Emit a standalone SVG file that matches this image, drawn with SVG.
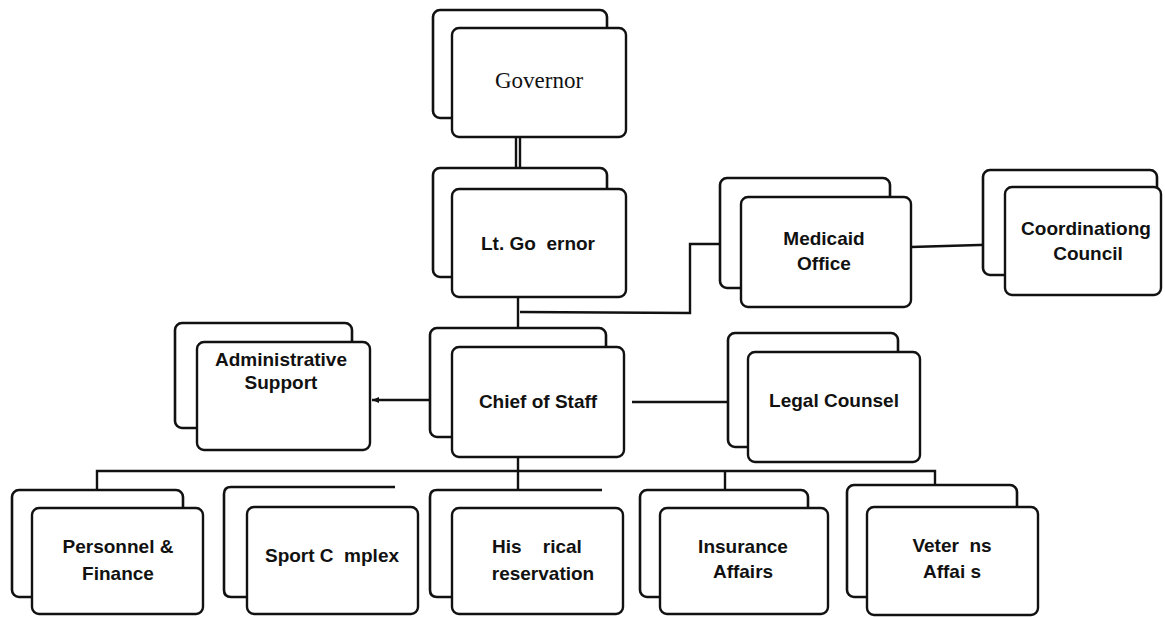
<svg xmlns="http://www.w3.org/2000/svg" width="1165" height="617" viewBox="0 0 1165 617">
<defs>
<style>
.bk{fill:#fff;stroke:#111;stroke-width:2.6}
.fr{fill:#fff;stroke:#111;stroke-width:2.4}
.ln{fill:none;stroke:#111;stroke-width:2.4}
.t{font-family:"Liberation Sans",Arial,sans-serif;font-size:19px;font-weight:bold;fill:#111;text-anchor:middle;white-space:pre}
.s{font-family:"Liberation Serif","Times New Roman",serif;font-size:23px;fill:#111;text-anchor:middle}
</style>
<marker id="ah" markerWidth="8" markerHeight="8" refX="7" refY="4" orient="auto" markerUnits="userSpaceOnUse">
<path d="M0,1 L7,4 L0,7 Z" fill="#111"/>
</marker>
</defs>
<rect width="1165" height="617" fill="#fff"/>
<g id="connectors">
<line class="ln" x1="516" y1="137" x2="516" y2="168"/>
<line class="ln" x1="520" y1="137" x2="520" y2="168"/>
<line class="ln" x1="518" y1="297" x2="518" y2="328"/>
<polyline class="ln" points="520,312 690,313 690,244 741,244"/>
<line class="ln" x1="911" y1="247" x2="1013" y2="244"/>
<line class="ln" x1="452" y1="400" x2="372" y2="400" marker-end="url(#ah)"/>
<line class="ln" x1="632" y1="402" x2="748" y2="402"/>
<line class="ln" x1="518" y1="457" x2="518" y2="490"/>
<polyline class="ln" points="97,490 97,471 935,471 935,485"/>
<line class="ln" x1="725" y1="471" x2="725" y2="490"/>
</g>
<g id="governor">
<rect class="bk" x="433" y="10" width="174" height="108" rx="7"/>
<rect class="fr" x="452" y="28" width="174" height="109" rx="7"/>
<text class="s" x="539" y="88">Governor</text>
</g>
<g id="lt-governor">
<rect class="bk" x="433" y="168" width="174" height="109" rx="7"/>
<rect class="fr" x="452" y="189" width="174" height="108" rx="7"/>
<text class="t" x="538" y="250" xml:space="preserve">Lt. Go  ernor</text>
</g>
<g id="medicaid-office">
<rect class="bk" x="720" y="178" width="170" height="110" rx="7"/>
<rect class="fr" x="741" y="197" width="170" height="110" rx="7"/>
<text class="t" x="824" y="245">Medicaid</text>
<text class="t" x="824" y="270">Office</text>
</g>
<g id="coordinating-council">
<rect class="bk" x="983" y="170" width="174" height="105" rx="7"/>
<rect class="fr" x="1005" y="187" width="156" height="108" rx="7"/>
<text class="t" x="1086" y="235">Coordinationg</text>
<text class="t" x="1088" y="260">Council</text>
</g>
<g id="administrative-support">
<rect class="bk" x="175" y="323" width="177" height="105" rx="7"/>
<rect class="fr" x="197" y="342" width="173" height="108" rx="7"/>
<text class="t" x="281" y="366">Administrative</text>
<text class="t" x="281" y="389">Support</text>
</g>
<g id="chief-of-staff">
<rect class="bk" x="430" y="328" width="176" height="109" rx="7"/>
<rect class="fr" x="452" y="347" width="172" height="110" rx="7"/>
<text class="t" x="538" y="408">Chief of Staff</text>
</g>
<g id="legal-counsel">
<rect class="bk" x="728" y="333" width="170" height="114" rx="7"/>
<rect class="fr" x="748" y="352" width="172" height="110" rx="7"/>
<text class="t" x="834" y="407">Legal Counsel</text>
</g>
<g id="personnel-finance">
<rect class="bk" x="12" y="490" width="171" height="107" rx="7"/>
<rect class="fr" x="32" y="508" width="171" height="106" rx="7"/>
<text class="t" x="118" y="553">Personnel &amp;</text>
<text class="t" x="118" y="580">Finance</text>
</g>
<g id="sport-complex">
<path class="bk" d="M395,487 H231 Q224,487 224,494 V590 Q224,597 231,597 H247"/>
<rect class="fr" x="247" y="507" width="171" height="107" rx="7"/>
<text class="t" x="332" y="562" xml:space="preserve">Sport C  mplex</text>
</g>
<g id="historical-preservation">
<path class="bk" d="M602,490 H437 Q430,490 430,497 V590 Q430,597 437,597 H452"/>
<rect class="fr" x="452" y="508" width="171" height="106" rx="7"/>
<text class="t" x="537" y="553" xml:space="preserve">His    rical</text>
<text class="t" x="543" y="580">reservation</text>
</g>
<g id="insurance-affairs">
<rect class="bk" x="640" y="490" width="168" height="107" rx="7"/>
<rect class="fr" x="660" y="508" width="168" height="106" rx="7"/>
<text class="t" x="743" y="553">Insurance</text>
<text class="t" x="743" y="578">Affairs</text>
</g>
<g id="veterans-affairs">
<rect class="bk" x="847" y="485" width="170" height="112" rx="7"/>
<rect class="fr" x="867" y="507" width="171" height="108" rx="7"/>
<text class="t" x="952" y="552" xml:space="preserve">Veter  ns</text>
<text class="t" x="952" y="578">Affai s</text>
</g>
</svg>
